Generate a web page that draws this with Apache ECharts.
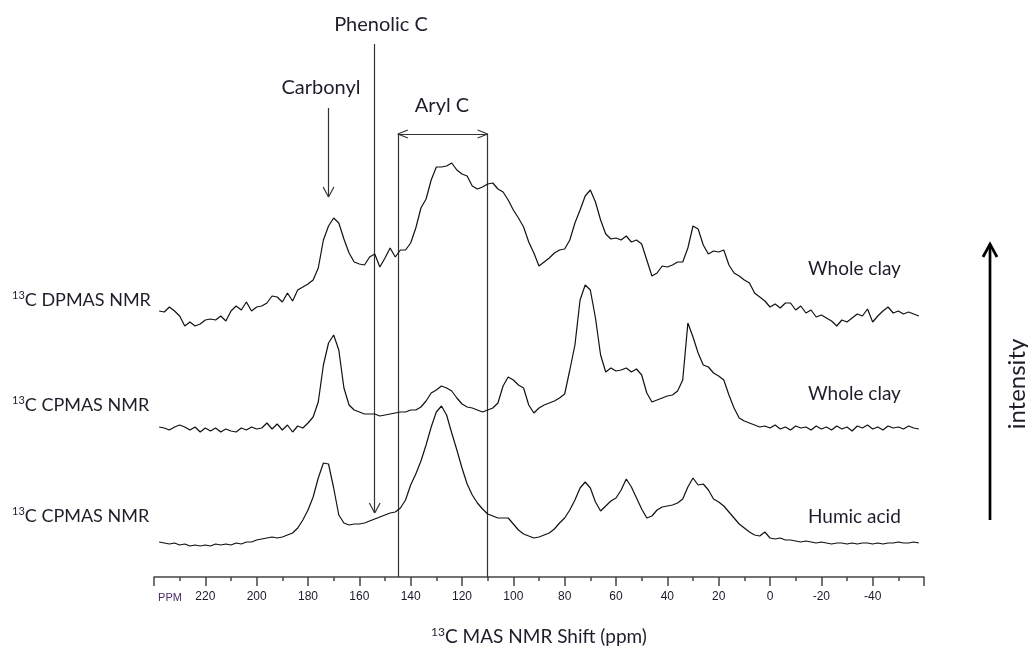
<!DOCTYPE html>
<html>
<head>
<meta charset="utf-8">
<script src="https://cdn.jsdelivr.net/npm/echarts@6/dist/echarts.min.js"></script>
<style>
html,body{margin:0;padding:0;background:#fff;}
#chart{width:1028px;height:648px;}
</style>
</head>
<body>
<div id="chart"></div>
<script>
// Chemical shift grid (ppm)
const ppm = [
  238,236,234,232,230,228,226,224,222,220,
  218,216,214,212,210,208,206,204,202,200,
  198,196,194,192,190,188,186,184,182,180,
  178,176,174,172,170,168,166,164,162,160,
  158,156,154,152,150,148,146,144,142,140,
  138,136,134,132,130,128,126,124,122,120,
  118,116,114,112,110,108,106,104,102,100,
  98,96,94,92,90,88,86,84,82,80,
  78,76,74,72,70,68,66,64,62,60,
  58,56,54,52,50,48,46,44,42,40,
  38,36,34,32,30,28,26,24,22,20,
  18,16,14,12,10,8,6,4,2,0,
  -2,-4,-6,-8,-10,-12,-14,-16,-18,-20,
  -22,-24,-26,-28,-30,-32,-34,-36,-38,-40,
  -42,-44,-46,-48,-50,-52,-54,-56,-58
];

// 13C DPMAS NMR, whole clay (relative intensity)
const dpmasClay = [
  16,15,20,16,11,1,5,1,3,7,
  8,7,11,6,16,21,17,25,16,20,
  21,24,31,30,25,34,26,37,40,43,
  47,59,87,101,109,104,88,74,65,63,
  62,70,73,60,69,79,70,77,77,84,
  99,119,128,147,160,160,161,164,157,153,
  151,141,138,140,143,144,138,135,127,117,
  109,100,85,74,61,65,69,74,77,78,
  87,104,117,131,137,125,107,93,88,89,
  87,91,85,87,83,67,51,54,61,60,
  62,65,65,79,101,98,82,73,76,75,
  77,62,54,51,47,44,34,30,26,20,
  23,19,24,24,17,21,14,17,10,12,
  9,6,1,7,5,9,13,11,18,5,
  11,16,20,14,16,13,15,13,11
];

// 13C CPMAS NMR, whole clay
const cpmasClay = [
  5,4,2,5,7,5,2,5,0,4,
  1,4,0,3,1,0,4,2,5,3,
  4,9,3,8,2,7,0,6,4,9,
  15,30,67,89,97,82,44,27,22,20,
  18,18,18,16,17,18,19,20,20,22,
  22,25,31,39,42,46,44,41,34,28,
  25,24,22,20,22,24,29,46,55,52,
  47,44,27,19,24,27,29,31,34,38,
  62,87,132,147,142,114,77,60,64,61,
  62,64,60,63,57,39,30,32,34,36,
  37,41,52,109,95,79,67,65,59,56,
  52,37,24,14,11,9,7,5,6,4,
  7,3,5,2,6,4,5,2,6,3,
  5,2,6,3,5,1,6,4,7,3,
  5,2,6,4,5,3,6,4,3
];

// 13C CPMAS NMR, humic acid
const cpmasHumic = [
  4,3,2,3,1,2,0,1,0,1,
  0,2,1,2,1,3,2,4,4,6,
  7,8,9,8,9,11,13,18,26,36,
  49,68,83,82,58,31,23,21,22,22,
  23,25,27,29,31,33,34,38,46,61,
  72,85,101,119,134,140,131,113,96,78,
  62,51,43,37,32,30,28,28,28,22,
  16,12,10,8,9,11,13,17,23,28,
  36,46,58,64,58,44,35,40,45,48,
  56,67,59,48,37,28,30,36,39,40,
  41,43,47,59,68,61,62,56,47,44,
  40,34,28,22,18,14,11,10,14,8,
  7,8,6,6,5,4,5,4,3,4,
  3,2,3,3,2,3,2,3,3,2,
  3,2,3,3,4,3,3,4,3
];

const traceNames = ['DPMAS whole clay', 'CPMAS whole clay', 'CPMAS humic acid'];
const leftLabels = ['C DPMAS NMR', 'C CPMAS NMR', 'C CPMAS NMR'];
const rightLabels = ['Whole clay', 'Whole clay', 'Humic acid'];
const tickValues = [220,200,180,160,140,120,100,80,60,40,20,0,-20,-40];

// Annotated shifts (ppm)
const carbonylPpm = 172;
const phenolicPpm = 154;
const arylRange = [145, 110];

// vertical stacking offsets for the three traces (display units)
const offsets = [250, 145, 31];

const chart = echarts.init(document.getElementById('chart'), null, {renderer: 'canvas'});

const traces = [dpmasClay, cpmasClay, cpmasHumic];
const FONT = 'Lato, "Open Sans", sans-serif';
const TXT = '#1e1e2a';

function seg(a, b) { return [{coord: a}, {coord: b}]; }

const marks = [
  // Carbonyl arrow
  seg([carbonylPpm, 469], [carbonylPpm, 380]),
  seg([carbonylPpm, 380], [carbonylPpm + 2.1, 390]),
  seg([carbonylPpm, 380], [carbonylPpm - 2.1, 390]),
  // Phenolic C arrow
  seg([phenolicPpm, 533], [phenolicPpm, 64]),
  seg([phenolicPpm, 64], [phenolicPpm + 2.1, 74]),
  seg([phenolicPpm, 64], [phenolicPpm - 2.1, 74]),
  // Aryl C bracket
  seg([arylRange[0], 443], [arylRange[0], 0]),
  seg([arylRange[1], 443], [arylRange[1], 0]),
  seg([arylRange[0], 443], [arylRange[1], 443]),
  seg([arylRange[0], 443], [arylRange[0] - 3.9, 447]),
  seg([arylRange[0], 443], [arylRange[0] - 3.9, 439]),
  seg([arylRange[1], 443], [arylRange[1] + 3.9, 447]),
  seg([arylRange[1], 443], [arylRange[1] + 3.9, 439])
];

const series = traces.map((vals, k) => ({
  name: traceNames[k],
  type: 'line',
  data: ppm.map((p, i) => [p, vals[i] + offsets[k]]),
  showSymbol: false,
  symbol: 'none',
  smooth: false,
  clip: false,
  lineStyle: {color: '#111', width: 1.2},
  silent: true,
  z: 3
}));

series[0].markLine = {
  silent: true,
  symbol: ['none', 'none'],
  label: {show: false},
  lineStyle: {color: '#333', width: 1.2, type: 'solid'},
  emphasis: {disabled: true},
  data: marks,
  z: 2
};

function supText(main, size, supSize) {
  return {
    text: '{s|13}{n|' + main + '}',
    rich: {
      s: {fontSize: supSize, fontFamily: FONT, fill: TXT, verticalAlign: 'top', lineHeight: size + 2},
      n: {fontSize: size, fontFamily: FONT, fill: TXT, lineHeight: size + 2}
    }
  };
}

const leftY = [300, 405, 516];
const rightY = [270, 395, 518];

const graphics = [];
leftLabels.forEach((t, k) => {
  const st = supText(t, 18, 11);
  graphics.push({type: 'text', left: 12, top: leftY[k] - 10, style: Object.assign(st, {fill: TXT})});
});
rightLabels.forEach((t, k) => {
  graphics.push({type: 'text', left: 808, top: rightY[k] - 11,
    style: {text: t, fontSize: 19, fontFamily: FONT, fill: TXT}});
});
[['Phenolic C', 381, 25], ['Carbonyl', 321, 88], ['Aryl C', 442, 106]].forEach(a => {
  graphics.push({type: 'text', x: a[1], y: a[2],
    style: {text: a[0], fontSize: 20, fontFamily: FONT, fill: TXT, align: 'center', verticalAlign: 'middle'}});
});
// PPM tag on the axis
graphics.push({type: 'text', x: 170, y: 598,
  style: {text: 'PPM', fontSize: 11, fontFamily: '"Liberation Sans Narrow", "Liberation Sans", sans-serif', fill: '#4a2a6a', align: 'center', verticalAlign: 'middle'}});
// intensity arrow
graphics.push({type: 'line', shape: {x1: 990, y1: 520, x2: 990, y2: 244}, style: {stroke: '#000', lineWidth: 2.7}});
graphics.push({type: 'polyline', shape: {points: [[983, 257], [990, 244], [997, 257]]}, style: {stroke: '#000', lineWidth: 2.7, fill: null}});
graphics.push({type: 'text', x: 1017, y: 384, rotation: Math.PI / 2,
  style: {text: 'intensity', fontSize: 24, fontFamily: FONT, fill: TXT, align: 'center', verticalAlign: 'middle'}});

const option = {
  animation: false,
  backgroundColor: '#fff',
  grid: {left: 154, right: 104, top: 0, bottom: 71, containLabel: false, outerBoundsMode: 'none'},
  xAxis: {
    type: 'value',
    min: -60, max: 240, interval: 20, inverse: true,
    name: '{s|13}{n|C MAS NMR Shift (ppm)}',
    nameLocation: 'middle', nameGap: 49,
    nameTextStyle: {
      rich: {
        s: {fontSize: 12, fontFamily: FONT, color: TXT, verticalAlign: 'top', lineHeight: 22},
        n: {fontSize: 19, fontFamily: FONT, color: TXT, lineHeight: 22}
      }
    },
    axisLine: {show: true, onZero: false, lineStyle: {color: '#444', width: 1.5}},
    axisTick: {show: true, inside: false, length: 9, lineStyle: {color: '#444', width: 1.5}},
    minorTick: {show: true, splitNumber: 2, length: 4, lineStyle: {color: '#444', width: 1.5}},
    splitLine: {show: false},
    axisLabel: {
      margin: 14, fontSize: 12, color: '#1a1a2a',
      fontFamily: '"Liberation Sans Narrow", "Liberation Sans", sans-serif',
      formatter: v => tickValues.indexOf(v) >= 0 ? String(v) : ''
    }
  },
  yAxis: {type: 'value', min: 0, max: 577, show: false},
  series: series,
  graphic: graphics
};

chart.setOption(option);
</script>
</body>
</html>
